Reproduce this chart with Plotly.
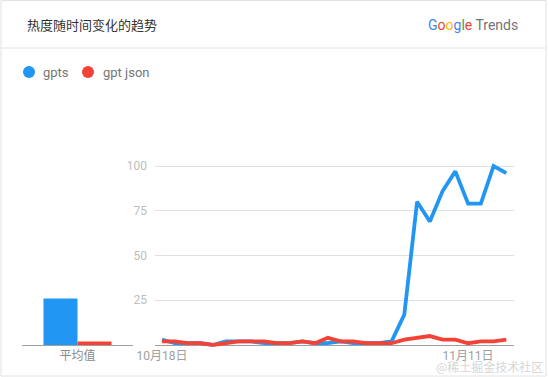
import plotly.graph_objects as go
import pandas as pd

W, H = 549, 377

dates = pd.date_range("2023-10-18", "2023-11-14", freq="D")
gpts = [3, 1, 1, 1, 0, 2, 2, 2, 1, 1, 1, 2, 1, 1, 2, 1, 1, 1, 2, 17, 80, 69, 86, 97, 79, 79, 100, 96]
gpt_json = [2, 2, 1, 1, 0, 1, 2, 2, 2, 1, 1, 2, 1, 4, 2, 2, 1, 1, 1, 3, 4, 5, 3, 3, 1, 2, 2, 3]
series_names = ["gpts", "gpt json"]
averages = [26, 2]
avg_label = "平均值"
y_ticks = [25, 50, 75, 100]
x_tick_dates = ["2023-10-18", "2023-11-11"]
x_tick_text = ["10月18日", "11月11日"]
title = "热度随时间变化的趋势"
colors = ["#2196f3", "#f44336"]

FONT = "Roboto, 'Noto Sans CJK SC', sans-serif"

def px(x):
    return x / W

def py(y):
    return 1 - y / H

# y scale: 0 -> 345px, 100 -> 166px
ppu = (345 - 166) / 100.0
ylo, yhi = -1.0, 103.0
ydom = [py(345 + (-ylo) * ppu), py(166 - (yhi - 100) * ppu)]

fig = go.Figure()

fig.add_trace(go.Scatter(x=dates, y=gpts, mode="lines", name=series_names[0],
                         line=dict(color=colors[0], width=3.8), xaxis="x", yaxis="y",
                         showlegend=False, hoverinfo="skip"))
fig.add_trace(go.Scatter(x=dates, y=gpt_json, mode="lines", name=series_names[1],
                         line=dict(color=colors[1], width=3.8), xaxis="x", yaxis="y",
                         showlegend=False, hoverinfo="skip"))

for name, val, c in zip(series_names, averages, colors):
    fig.add_trace(go.Bar(x=[avg_label], y=[val], name=name, marker=dict(color=c, line=dict(width=0)),
                         xaxis="x2", yaxis="y2", showlegend=False, hoverinfo="skip"))

x0 = pd.Timestamp("2023-10-18") - pd.Timedelta(hours=0.55 * 24)
x1 = pd.Timestamp("2023-11-14") + pd.Timedelta(hours=0.6 * 24)

fig.update_layout(
    width=W, height=H,
    margin=dict(l=0, r=0, t=0, b=0),
    paper_bgcolor="white", plot_bgcolor="rgba(0,0,0,0)",
    font=dict(family=FONT),
    barmode="group", bargap=0.387, bargroupgap=0,
    xaxis=dict(domain=[px(155), px(514)], type="date", range=[x0, x1],
               tickvals=x_tick_dates, ticktext=x_tick_text,
               showgrid=False, zeroline=False, showline=False, ticks="",
               tickfont=dict(size=12, color="#9e9e9e"), anchor="y", automargin=False,
               ticklabelstandoff=0),
    yaxis=dict(domain=ydom, range=[ylo, yhi], tickvals=y_ticks,
               showgrid=True, gridcolor="#e0e0e0", gridwidth=1,
               zeroline=True, zerolinecolor="#9e9e9e", zerolinewidth=1,
               showline=False, ticks="", tickfont=dict(size=12, color="#bdbdbd"),
               anchor="x", automargin=False, ticklabelstandoff=7),
    xaxis2=dict(domain=[px(22), px(133)], type="category", range=[-0.5, 0.5],
                showgrid=False, zeroline=False, showline=False, ticks="",
                tickfont=dict(size=12, color="#8a8a8a"), anchor="y2", automargin=False,
                ticklabelstandoff=0),
    yaxis2=dict(domain=ydom, range=[ylo, yhi], showgrid=False, showticklabels=False,
                zeroline=True, zerolinecolor="#9e9e9e", zerolinewidth=1,
                showline=False, ticks="", anchor="x2", automargin=False),
)

shapes = [
    dict(type="rect", xref="paper", yref="paper", x0=px(1), x1=px(546), y0=py(376), y1=py(0.5),
         line=dict(color="#e2e2e2", width=1), fillcolor="rgba(0,0,0,0)", layer="below"),
    dict(type="line", xref="paper", yref="paper", x0=px(1), x1=px(546), y0=py(48), y1=py(48),
         line=dict(color="#e2e2e2", width=1)),
]
for cx, c in zip([29, 88], colors):
    r = 6
    shapes.append(dict(type="circle", xref="paper", yref="paper",
                       x0=px(cx - r), x1=px(cx + r), y0=py(72 + r), y1=py(72 - r),
                       fillcolor=c, line=dict(width=0)))
fig.update_layout(shapes=shapes)

annotations = [
    dict(text=title, x=px(25), y=py(24), xref="paper", yref="paper", xanchor="left", yanchor="middle",
         showarrow=False, font=dict(size=13, color="#333333", family="'Noto Sans CJK SC', sans-serif")),
    dict(text='<span style="color:#4285f4">G</span><span style="color:#ea4335">o</span>'
              '<span style="color:#fbbc05">o</span><span style="color:#4285f4">g</span>'
              '<span style="color:#34a853">l</span><span style="color:#ea4335">e</span>'
              '<span style="color:#757575"> Trends</span>',
         x=px(520), y=py(25), xref="paper", yref="paper", xanchor="right", yanchor="middle",
         showarrow=False, font=dict(size=14, family="Roboto, sans-serif")),
    dict(text=series_names[0], x=px(41), y=py(72), xref="paper", yref="paper", xanchor="left",
         yanchor="middle", showarrow=False, font=dict(size=13, color="#757575")),
    dict(text=series_names[1], x=px(101), y=py(72), xref="paper", yref="paper", xanchor="left",
         yanchor="middle", showarrow=False, font=dict(size=13, color="#757575")),
    dict(text="@稀土掘金技术社区", x=px(545), y=py(366), xref="paper", yref="paper", xanchor="right",
         yanchor="middle", showarrow=False,
         font=dict(size=12, color="#d6d6d6", family="'Noto Sans CJK SC', sans-serif")),
]
fig.update_layout(annotations=annotations)

fig.write_html("out.html", config={"displayModeBar": False},
               post_script="document.body.style.margin='0';document.body.style.overflow='hidden';")
